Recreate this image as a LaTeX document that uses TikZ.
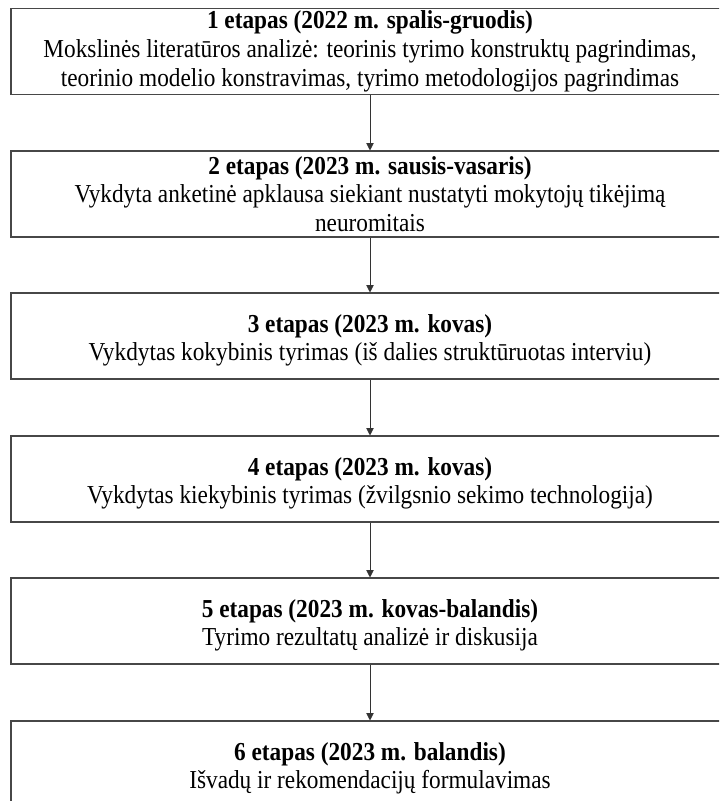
\documentclass[tikz,border=0pt]{standalone}
\usepackage{fontspec}
\setmainfont[FakeStretch=0.9]{Liberation Serif}
\usetikzlibrary{arrows.meta}
% strut that lowers the text block inside the two-line stage boxes
\newcommand\stagepad{\rule{0pt}{20pt}}
\begin{document}
\begin{tikzpicture}[x=0.75pt,y=-0.75pt,
  stagebox/.style={draw=black!72,line width=0.8pt,fill=white,
    minimum width=538.5pt,minimum height=64.5pt,inner sep=0pt,
    align=center,font=\fontsize{19.4}{21.6}\selectfont},
  flow/.style={draw=black!80,line width=0.6pt,
    -{Triangle[length=5.5pt,width=5.5pt]}}]
\useasboundingbox (0,0) rectangle (719,801);
\clip (0,0) rectangle (719,801);
\node[stagebox] (s1) at (370,51.5) {\textbf{1 etapas (2022 m. spalis-gruodis)}\\
  Mokslinės literatūros analizė: teorinis tyrimo konstruktų pagrindimas,\\
  teorinio modelio konstravimas, tyrimo metodologijos pagrindimas};
\node[stagebox] (s2) at (370,194) {\textbf{2 etapas (2023 m. sausis-vasaris)}\\
  Vykdyta anketinė apklausa siekiant nustatyti mokytojų tikėjimą\\
  neuromitais};
\node[stagebox] (s3) at (370,336) {\stagepad\textbf{3 etapas (2023 m. kovas)}\\
  Vykdytas kokybinis tyrimas (iš dalies struktūruotas interviu)};
\node[stagebox] (s4) at (370,479) {\stagepad\textbf{4 etapas (2023 m. kovas)}\\
  Vykdytas kiekybinis tyrimas (žvilgsnio sekimo technologija)};
\node[stagebox] (s5) at (370,621) {\stagepad\textbf{5 etapas (2023 m. kovas-balandis)}\\
  Tyrimo rezultatų analizė ir diskusija};
\node[stagebox] (s6) at (370,764) {\stagepad\textbf{6 etapas (2023 m. balandis)}\\
  Išvadų ir rekomendacijų formulavimas};
\draw[flow] (s1.south) -- (s2.north);
\draw[flow] (s2.south) -- (s3.north);
\draw[flow] (s3.south) -- (s4.north);
\draw[flow] (s4.south) -- (s5.north);
\draw[flow] (s5.south) -- (s6.north);
\end{tikzpicture}
\end{document}
